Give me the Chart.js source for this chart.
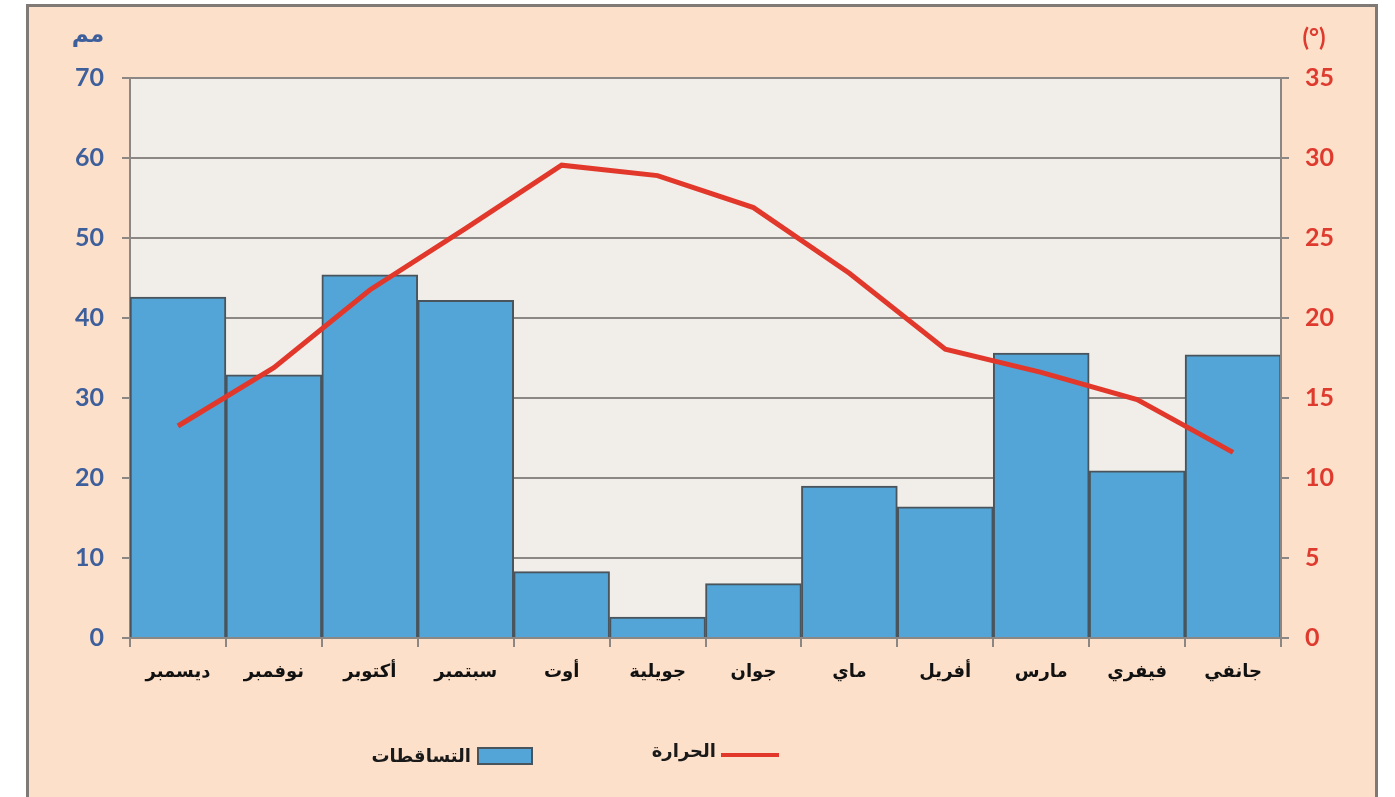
<!DOCTYPE html>
<html>
<head>
<meta charset="utf-8">
<script src="https://cdn.jsdelivr.net/npm/chart.js@4/dist/chart.umd.min.js"></script>
<style>
html,body{margin:0;padding:0;background:#ffffff;}
#wrap{position:relative;width:1395px;height:797px;}
canvas{display:block;}
</style>
</head>
<body>
<div id="wrap"><canvas id="c" width="1395" height="797"></canvas></div>
<script>
const months = ['ديسمبر','نوفمبر','أكتوبر','سبتمبر','أوت','جويلية','جوان','ماي','أفريل','مارس','فيفري','جانفي'];
const precipitation = [42.6, 32.9, 45.4, 42.2, 8.3, 2.6, 6.8, 19.0, 16.4, 35.6, 20.9, 35.4];
const temperature = [13.25, 16.9, 21.75, 25.6, 29.55, 28.9, 26.9, 22.8, 18.05, 16.6, 14.9, 11.6];
const precipTicks = [0, 10, 20, 30, 40, 50, 60, 70];
const tempTicks = [0, 5, 10, 15, 20, 25, 30, 35];
const precipLabel = 'التساقطات';
const tempLabel = 'الحرارة';
const precipUnit = 'مم';
const tempUnit = '(°)';

const BLUE_TXT = '#3d5f9c';
const RED_TXT = '#df3a2e';
const GRID = '#8b8784';

const bgPlugin = {
  id: 'bg',
  beforeDraw(chart) {
    const ctx = chart.ctx;
    const a = chart.chartArea;
    ctx.save();
    ctx.fillStyle = '#ffffff';
    ctx.fillRect(0, 0, chart.width, chart.height);
    ctx.fillStyle = '#fde0ca';
    ctx.fillRect(28, 5, 1349, 800);
    ctx.strokeStyle = '#7f7a76';
    ctx.lineWidth = 3;
    ctx.beginPath();
    ctx.moveTo(27.5, 800); ctx.lineTo(27.5, 5.5); ctx.lineTo(1376.5, 5.5); ctx.lineTo(1376.5, 800);
    ctx.stroke();
    ctx.fillStyle = '#f1ede8';
    ctx.fillRect(a.left, a.top, a.right - a.left, a.bottom - a.top);
    ctx.restore();
  },
  afterDraw(chart) {
    const ctx = chart.ctx;
    const a = chart.chartArea;
    ctx.save();
    ctx.strokeStyle = GRID;
    ctx.lineWidth = 2;
    ctx.beginPath();
    ctx.moveTo(a.right, a.top); ctx.lineTo(a.right, a.bottom + 8);
    ctx.stroke();
    ctx.font = 'bold 23px "DejaVu Sans"';
    ctx.fillStyle = BLUE_TXT;
    ctx.textAlign = 'center';
    ctx.textBaseline = 'middle';
    ctx.fillText(precipUnit, 88, 36);
    ctx.font = 'bold 24px Lato';
    ctx.fillStyle = RED_TXT;
    ctx.fillText(tempUnit, 1314, 38);
    ctx.fillStyle = '#1a1a1a';
    ctx.textAlign = 'right';
    ctx.font = 'bold 18px "DejaVu Sans"';
    ctx.fillText(precipLabel, 471, 757);
    ctx.fillText(tempLabel, 716, 752);
    ctx.fillStyle = '#52a5d6';
    ctx.fillRect(478, 748, 54, 16);
    ctx.strokeStyle = '#4a545c';
    ctx.lineWidth = 2;
    ctx.strokeRect(478, 748, 54, 16);
    ctx.strokeStyle = '#e2382b';
    ctx.lineWidth = 4;
    ctx.beginPath();
    ctx.moveTo(721, 755); ctx.lineTo(779, 755);
    ctx.stroke();
    ctx.restore();
  }
};

new Chart(document.getElementById('c'), {
  data: {
    labels: months,
    datasets: [
      {
        type: 'line',
        label: tempLabel,
        data: temperature,
        yAxisID: 'yT',
        borderColor: '#e2382b',
        borderWidth: 5,
        pointRadius: 0,
        tension: 0,
        fill: false,
        order: 0
      },
      {
        type: 'bar',
        label: precipLabel,
        data: precipitation,
        yAxisID: 'yP',
        backgroundColor: '#52a5d6',
        borderColor: '#4a545c',
        borderWidth: 2,
        borderSkipped: 'bottom',
        categoryPercentage: 1,
        barPercentage: 1,
        order: 1
      }
    ]
  },
  options: {
    responsive: false,
    animation: false,
    devicePixelRatio: 1,
    layout: { padding: { top: 78, left: 0, right: 0, bottom: 0 } },
    plugins: { legend: { display: false }, tooltip: { enabled: false } },
    scales: {
      x: {
        offset: true,
        grid: { display: true, offset: true, drawOnChartArea: false, drawTicks: true, tickLength: 9, color: GRID, lineWidth: 2 },
        border: { display: true, color: GRID, width: 2 },
        ticks: { color: '#111', font: { family: 'DejaVu Sans', weight: 'bold', size: 18 }, padding: 15, maxRotation: 0, autoSkip: false },
        afterFit(s) { s.height = 159; }
      },
      yP: {
        position: 'left',
        min: 0, max: 70,
        afterBuildTicks(s) { s.ticks = precipTicks.map(v => ({ value: v })); },
        grid: { color: GRID, lineWidth: 2, tickLength: 8, drawTicks: true },
        border: { display: true, color: GRID, width: 2 },
        ticks: { color: BLUE_TXT, font: { family: 'Lato', weight: 'bold', size: 25 }, padding: 18 },
        afterFit(s) { s.width = 130; }
      },
      yT: {
        position: 'right',
        min: 0, max: 35,
        afterBuildTicks(s) { s.ticks = tempTicks.map(v => ({ value: v })); },
        grid: { drawOnChartArea: false, color: GRID, lineWidth: 2, tickLength: 8, drawTicks: true },
        border: { display: true, color: GRID, width: 2 },
        ticks: { color: RED_TXT, font: { family: 'Lato', weight: 'bold', size: 25 }, padding: 16 },
        afterFit(s) { s.width = 114; }
      }
    }
  },
  plugins: [bgPlugin]
});
</script>
</body>
</html>
